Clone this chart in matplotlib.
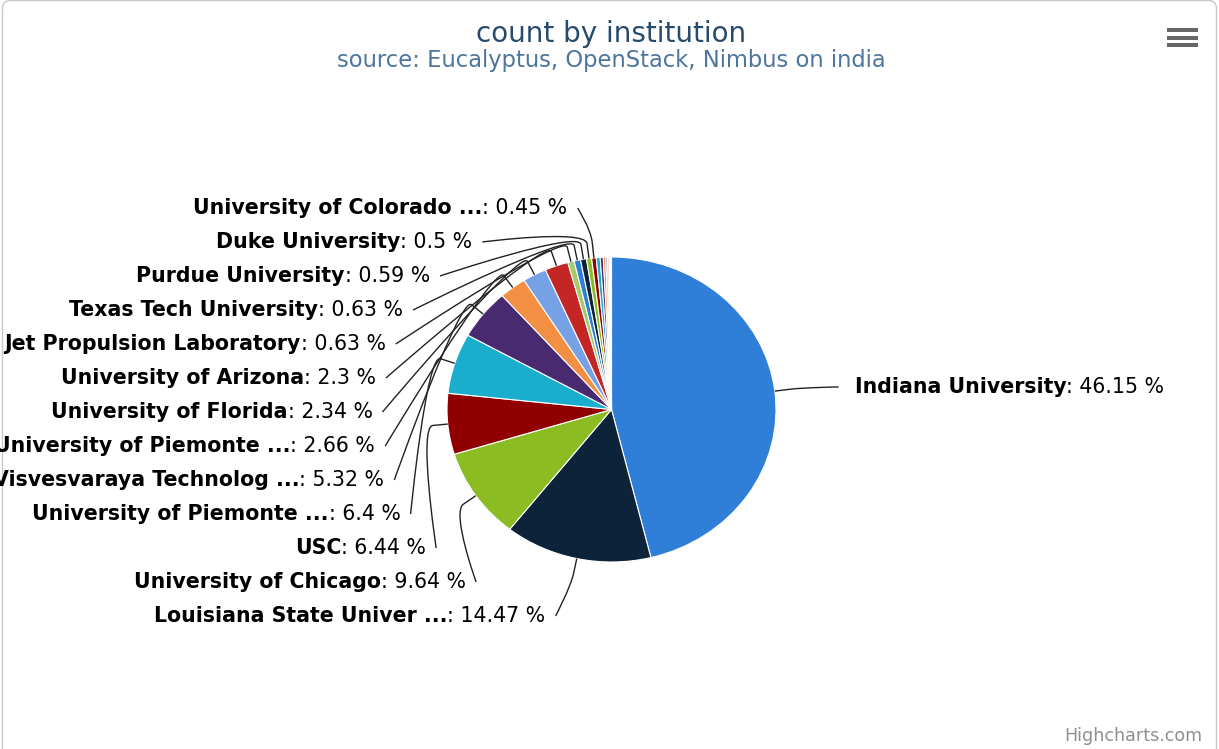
import numpy as np
import matplotlib.pyplot as plt
from matplotlib.path import Path
from matplotlib.patches import PathPatch, FancyBboxPatch, Rectangle

# data (percent of count)
names = ["Indiana University", "Louisiana State Univer ...", "University of Chicago", "USC",
         "University of Piemonte ...", "Visvesvaraya Technolog ...", "University of Piemonte ...",
         "University of Florida", "University of Arizona", "Jet Propulsion Laboratory",
         "Texas Tech University", "Purdue University", "Duke University", "University of Colorado ..."]
shares = [46.15, 14.47, 9.64, 6.44, 6.4, 5.32, 2.66, 2.34, 2.3, 0.63, 0.63, 0.59, 0.5, 0.45]
# tiny unlabeled slices at the top of the pie (estimated)
tiny_shares = [0.38, 0.3, 0.24, 0.18, 0.14, 0.11, 0.08, 0.05]

palette = ['#2f7ed8', '#0d233a', '#8bbc21', '#910000', '#1aadce',
           '#492970', '#f28f43', '#77a1e5', '#c42525', '#a6c96a']

values = shares + tiny_shares
colors = [palette[i % len(palette)] for i in range(len(values))]

W, H = 1219, 749
fig = plt.figure(figsize=(W / 100, H / 100), dpi=100)
fig.patch.set_facecolor('white')

# pie geometry in pixels (y downward)
cx, cy, rx, ry = 611.5, 409.5, 164.5, 152.5
m = 1.05
axp = fig.add_axes([(cx - rx * m) / W, (H - cy - ry * m) / H, 2 * rx * m / W, 2 * ry * m / H])
wedges, _ = axp.pie(values, colors=colors, startangle=90, counterclock=False, radius=1,
                    wedgeprops=dict(edgecolor='white', linewidth=0.8))
axp.set_aspect('auto')
axp.set_xlim(-m, m)
axp.set_ylim(-m, m)
axp.axis('off')

# overlay in pixel coordinates for labels / connectors
ax = fig.add_axes([0, 0, 1, 1], zorder=5)
ax.set_xlim(0, W)
ax.set_ylim(H, 0)
ax.axis('off')
ax.patch.set_alpha(0)

fig.patches.append(FancyBboxPatch((2.5, -10), W - 5, H + 9.5, boxstyle="round,pad=0,rounding_size=8",
                                  transform=None, fill=False, edgecolor='#c8c8c8', linewidth=1.0))

ax.text(611, 34, "count by institution", ha='center', va='center', fontsize=20, color='#274b6d')
ax.text(611, 61, "source: Eucalyptus, OpenStack, Nimbus on india", ha='center', va='center',
        fontsize=16.3, color='#4d759e')
ax.text(1202, 736, "Highcharts.com", ha='right', va='center', fontsize=12.6, color='#909090')
for yy in (30, 37.5, 45):
    ax.add_patch(Rectangle((1167, yy - 2), 31, 4, color='#666666', linewidth=0))

fig.canvas.draw()
renderer = fig.canvas.get_renderer()

# label layout
fs = 14.8
a_lab, b_lab, cy_lab, brk = 229, 208.3, 414, 15
total = sum(values)
cum = np.cumsum([0] + values)
mids = [(cum[i] + cum[i + 1]) / 2 / total * 2 * np.pi for i in range(len(shares))]

left_idx = [i for i in range(len(shares)) if np.sin(mids[i]) < 0]
left_idx.sort(key=lambda i: -np.cos(mids[i]))
slot_y = {}
for k, i in enumerate(left_idx):
    slot_y[i] = 208 + 34 * k


def label_x(y, side):
    dy = y - cy_lab
    return cx + side * a_lab * np.sqrt(max(0.0, 1 - (dy / b_lab) ** 2))


for i, (nm, v) in enumerate(zip(names, shares)):
    th = mids[i]
    side = 1 if np.sin(th) > 0 else -1
    y = slot_y.get(i, cy - 212 * np.cos(th) + 3)
    xa = label_x(y, side)
    base = np.array([cx + rx * np.sin(th), cy - ry * np.cos(th)])
    bp = np.array([cx + (rx + brk) * np.sin(th), cy - (ry + brk) * np.cos(th)])
    c2 = 2 * bp - base
    verts = [(xa, y), (xa, y), tuple(c2), tuple(bp), tuple(base)]
    codes = [Path.MOVETO, Path.CURVE4, Path.CURVE4, Path.CURVE4, Path.LINETO]
    ax.add_patch(PathPatch(Path(verts, codes), fill=False, edgecolor='#222222', linewidth=1.0))

    val = f": {v:g} %"
    if side < 0:
        xt = xa - 10
        t2 = ax.text(xt, y, val, ha='right', va='center', fontsize=fs, color='black')
        w = t2.get_window_extent(renderer).width
        ax.text(xt - w, y, nm, ha='right', va='center', fontsize=fs, fontweight='bold', color='black')
    else:
        xt = xa + 16
        t1 = ax.text(xt, y, nm, ha='left', va='center', fontsize=fs, fontweight='bold', color='black')
        w = t1.get_window_extent(renderer).width
        ax.text(xt + w, y, val, ha='left', va='center', fontsize=fs, color='black')

fig.savefig("out.png", dpi=100)
